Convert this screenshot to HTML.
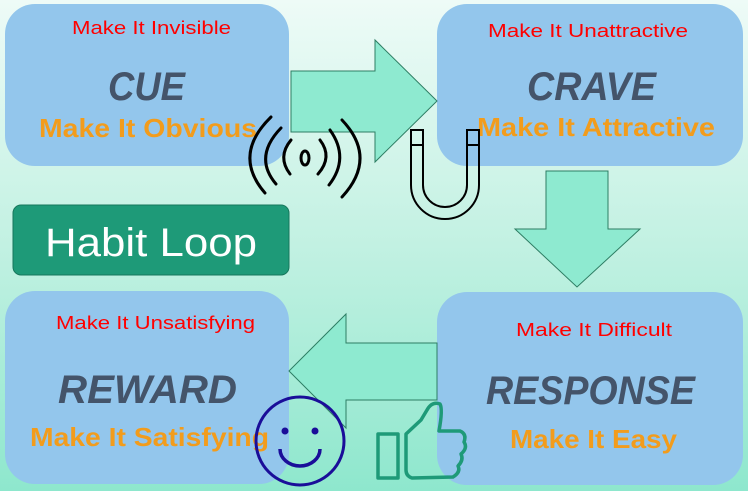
<!DOCTYPE html>
<html><head><meta charset="utf-8"><style>
html,body{margin:0;padding:0;width:748px;height:491px;overflow:hidden}
svg{display:block}
text{font-family:"Liberation Sans",sans-serif}
</style></head><body>
<svg width="748" height="491" viewBox="0 0 748 491" xmlns="http://www.w3.org/2000/svg">
<defs><linearGradient id="bg" x1="0" y1="0" x2="0" y2="1">
<stop offset="0" stop-color="#eefbf7"/><stop offset="0.5" stop-color="#c2f1e2"/><stop offset="1" stop-color="#8ee7cd"/></linearGradient></defs>
<rect width="748" height="491" fill="url(#bg)"/>
<g fill="#93c6ec">
<rect x="5" y="4" width="284" height="162" rx="30"/>
<rect x="437" y="4" width="306" height="162" rx="30"/>
<rect x="5" y="291" width="284" height="193" rx="30"/>
<rect x="437" y="292" width="306" height="193" rx="30"/>
</g>
<g fill="#8eead0" stroke="#2d7d63" stroke-width="1">
<polygon points="291,71 375,71 375,40 437,101 375,162 375,132 291,132"/>
<polygon points="546,171 608,171 608,229 640,229 577,287 515,229 546,229"/>
<polygon points="437,343 346,343 346,314 289,371 346,428 346,400 437,400"/>
</g>
<rect x="13" y="205" width="276" height="70" rx="8" fill="#1e9a78" stroke="#17775c"/>
<text x="45" y="256" font-size="40" fill="#fff" textLength="212" lengthAdjust="spacingAndGlyphs">Habit Loop</text>
<g fill="#f00" font-size="18">
<text x="72" y="34" textLength="159" lengthAdjust="spacingAndGlyphs">Make It Invisible</text>
<text x="488" y="37" textLength="200" lengthAdjust="spacingAndGlyphs">Make It Unattractive</text>
<text x="56" y="329" textLength="199" lengthAdjust="spacingAndGlyphs">Make It Unsatisfying</text>
<text x="516" y="336" textLength="156" lengthAdjust="spacingAndGlyphs">Make It Difficult</text>
</g>
<g fill="#44546a" font-size="40" font-weight="bold" font-style="italic">
<text x="108" y="100" textLength="77" lengthAdjust="spacingAndGlyphs">CUE</text>
<text x="527" y="100" textLength="129" lengthAdjust="spacingAndGlyphs">CRAVE</text>
<text x="58" y="403" textLength="179" lengthAdjust="spacingAndGlyphs">REWARD</text>
<text x="486" y="404" textLength="209" lengthAdjust="spacingAndGlyphs">RESPONSE</text>
</g>
<g fill="#f29c1c" font-size="26" font-weight="bold">
<text x="39" y="137" textLength="218" lengthAdjust="spacingAndGlyphs">Make It Obvious</text>
<text x="477" y="136" textLength="238" lengthAdjust="spacingAndGlyphs">Make It Attractive</text>
<text x="30" y="446" textLength="239" lengthAdjust="spacingAndGlyphs">Make It Satisfying</text>
<text x="510" y="448" textLength="167" lengthAdjust="spacingAndGlyphs">Make It Easy</text>
</g>
<!-- waves -->
<g fill="none" stroke="#000" stroke-width="3" stroke-linecap="round">
<ellipse cx="305" cy="158" rx="4" ry="7"/>
<path d="M291,140 Q277,157 290,174"/>
<path d="M320,140 Q333,157 318,174"/>
<path d="M281,128 Q253,157 276,184"/>
<path d="M330,130 Q350,158 329,185"/>
<path d="M271,117 Q232,155 265,193"/>
<path d="M342,120 Q378,158 342,197"/>
</g>
<!-- magnet -->
<g fill="none" stroke="#000" stroke-width="2">
<path d="M411,130 L423,130 L423,185 A22,22 0 0 0 467,185 L467,130 L479,130 L479,185 A34,34 0 0 1 411,185 Z"/>
<line x1="411" y1="145" x2="423" y2="145"/><line x1="467" y1="145" x2="479" y2="145"/>
</g>
<!-- smiley -->
<g fill="none" stroke="#1a0d99" stroke-width="3">
<circle cx="300" cy="441" r="44"/>
<path d="M280,449 A20,17 0 0 0 320,449" stroke-width="3.5"/>
</g>
<circle cx="285" cy="431" r="3.5" fill="#1a0d99"/><circle cx="315" cy="431" r="3.5" fill="#1a0d99"/>
<!-- thumbs up -->
<g fill="none" stroke="#1e9a78" stroke-width="3.5" stroke-linejoin="round">
<rect x="378" y="434" width="20" height="44"/>
<path d="M406,434 L421,420 L427,410 Q432,401 440,404 Q443,409 439,431 L460,431 Q467,434 464,442 Q468,448 461,454 Q464,460 458,466 Q461,472 453,477 L412,478 Q406,476 406,470 Z"/>
</g>
</svg>
</body></html>
